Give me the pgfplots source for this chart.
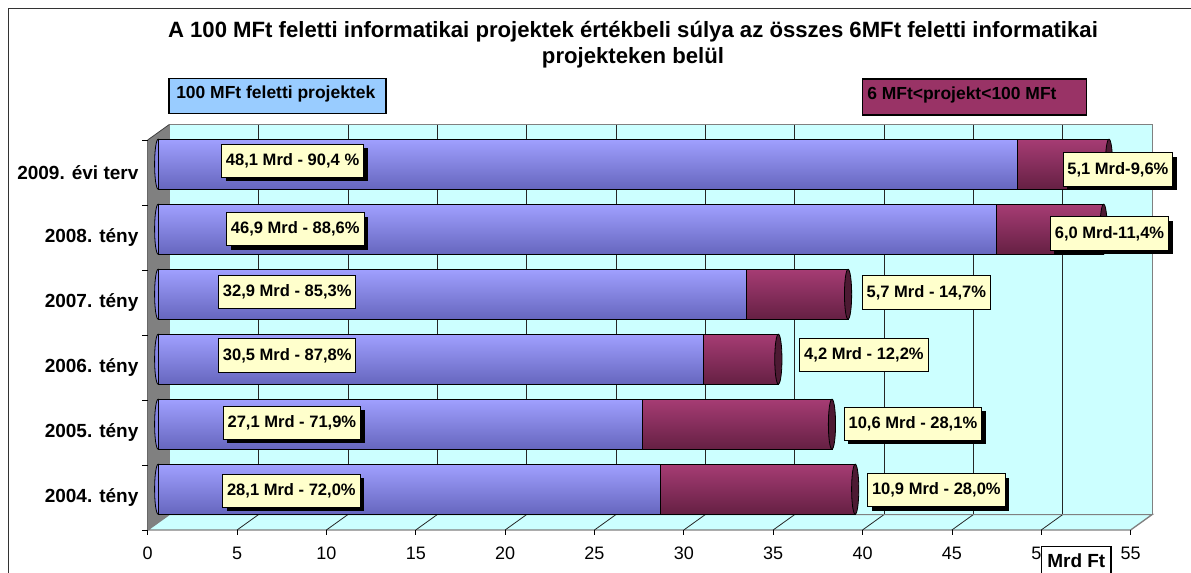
\documentclass[border=0pt]{standalone}
\usepackage{fontspec}
\setmainfont{Liberation Sans}
\usepackage{pgfplots}
\pgfplotsset{compat=1.18}
\usetikzlibrary{shadows}
\definecolor{wall}{HTML}{CCFFFF}
\definecolor{sidegray}{HTML}{808080}
\definecolor{blueTop}{HTML}{A0A0FF}
\definecolor{blueMid}{HTML}{8A8AF0}
\definecolor{blueBot}{HTML}{6666BE}
\definecolor{marTop}{HTML}{A63C74}
\definecolor{marMid}{HTML}{8E2D5E}
\definecolor{marBot}{HTML}{652043}
\definecolor{marCap}{HTML}{4D1A33}
\definecolor{blueCap}{HTML}{8484E6}
\definecolor{labfill}{HTML}{FFFFCC}
\definecolor{leg1}{HTML}{99CCFF}
\definecolor{leg2}{HTML}{993366}
\pgfdeclareplotmark{cap}{%
  \pgfpathellipse{\pgfpointorigin}{\pgfqpoint{2.7pt}{0pt}}{\pgfqpoint{0pt}{18.75pt}}%
  \pgfusepathqfillstroke}
\pgfplotsset{
  geo/.style={scale only axis, width=737.2pt, height=292.5pt,
    xmin=0, xmax=55, ymin=-0.5, ymax=5.5, anchor=south west, clip=false},
  barax/.style={geo, at={(118.65pt,38.475pt)}, hide axis},
}
\tikzset{
  lab/.style={draw=black, line width=0.7pt, fill=labfill, inner xsep=3.3pt, inner ysep=0pt,
    minimum height=25pt, font=\bfseries\fontsize{12.4}{14}\selectfont},
  sh/.style={lab, drop shadow={shadow xshift=3pt, shadow yshift=-3pt, opacity=1, fill=black}},
}
% one category: blue part, maroon part, category index
\newcommand{\barrow}[3]{%
\begin{axis}[barax, xbar stacked, bar width=37.5pt]
\addplot[draw=black, line width=0.6pt, top color=blueTop, middle color=blueMid, bottom color=blueBot]
  coordinates {(#1,#3)};
\addplot[draw=black, line width=0.6pt, top color=marTop, middle color=marMid, bottom color=marBot]
  coordinates {(#2,#3)};
\end{axis}}
\begin{document}
\begin{tikzpicture}[x=0.75pt,y=0.75pt]
\useasboundingbox (0,0) rectangle (1191,573);
\draw[black!80, line width=1.2pt] (8.3,564.5) rectangle (1300,-100);
% title
\node[anchor=base, font=\bfseries\fontsize{16.6}{19}\selectfont] at (633,535.3)
  {A 100 MFt feletti informatikai projektek értékbeli súlya az összes 6MFt feletti informatikai};
\node[anchor=base, font=\bfseries\fontsize{16.6}{19}\selectfont] at (633,509.3)
  {projekteken belül};
% legend boxes
\draw[fill=leg1, draw=black, line width=0.8pt] (169,494.7) rectangle (386,459.7);
\node[anchor=west, inner sep=0pt, font=\bfseries\fontsize{13.1}{15}\selectfont] at (176,479) {100 MFt feletti projektek};
\draw[fill=leg2, draw=black, line width=0.8pt] (862.3,494) rectangle (1086.7,458);
\node[anchor=west, inner sep=0pt, font=\bfseries\fontsize{13.1}{15}\selectfont] at (867,478) {6 MFt<projekt<100 MFt};
% floor
\fill[wall, draw=sidegray, line width=1pt] (147.7,43) -- (1130.6,43) -- (1152.2,58.5) -- (169.3,58.5) -- cycle;
\foreach \i in {5,10,...,50} \draw[black!85, line width=0.6pt] (147.7+\i*17.87,43) -- (169.3+\i*17.87,58.5);
% back wall
\begin{axis}[geo, at={(126.975pt,43.875pt)},
  axis background/.style={fill=wall},
  axis line style={draw=sidegray, line width=1pt},
  xtick={5,10,...,50}, xticklabels={}, ytick=\empty,
  xmajorgrids, grid style={black!85, line width=0.6pt},
  major tick length=0pt]
\end{axis}
% side wall
\fill[sidegray] (147.7,43) -- (169.3,58.5) -- (169.3,448.5) -- (147.7,433) -- cycle;
\draw[black!75, line width=0.6pt] (147.7,433) -- (169.3,448.5);
\draw[sidegray!80!black, line width=1pt] (147.7,43) -- (147.7,433);
% left caps (behind bars)
\begin{axis}[barax]
\addplot[only marks, mark=cap, mark options={fill=blueCap, draw=black, line width=0.6pt}]
  coordinates {(0,0) (0,1) (0,2) (0,3) (0,4) (0,5)};
\end{axis}
% bars, one axis per category so that each bar gets its own shading
\barrow{28.1}{10.9}{0}
\barrow{27.1}{10.6}{1}
\barrow{30.5}{4.2}{2}
\barrow{32.9}{5.7}{3}
\barrow{46.9}{6.0}{4}
\barrow{48.1}{5.1}{5}
% right caps
\begin{axis}[barax]
\addplot[only marks, mark=cap, mark options={fill=marCap, draw=black, line width=0.6pt}]
  coordinates {(39.0,0) (37.7,1) (34.7,2) (38.6,3) (52.9,4) (53.2,5)};
\end{axis}
% front axis: ticks and labels
\begin{axis}[geo, at={(110.775pt,32.25pt)},
  axis x line*=bottom, axis y line*=left,
  axis line style={draw=none},
  xtick={0,5,...,55}, tick align=outside, major tick length=3.75pt,
  xtick style={black, line width=0.6pt},
  xticklabel style={anchor=center, yshift=-14pt, font=\fontsize{13.5}{15}\selectfont},
  /pgf/number format/assume math mode=true,
  ytick={0,1,2,3,4,5},
  yticklabels={2004. tény, 2005. tény, 2006. tény, 2007. tény, 2008. tény, 2009. évi terv},
  ytick style={draw=none},
  yticklabel style={anchor=east, inner sep=0pt, xshift=-3pt, font=\bfseries\fontsize{14.25}{16}\selectfont},
]
\pgfplotsinvokeforeach{-0.5,0.5,1.5,2.5,3.5,4.5,5.5}{
  \draw[black, line width=0.6pt] (axis cs:0,#1) -- ++(-4.5pt,0pt);
}
\end{axis}
% data labels
\begin{axis}[barax]
\addplot[draw=none] coordinates {(0,0)};
\node[sh] at (axis cs:7.52,5) [yshift=2.6pt] {48,1 Mrd - 90,4 \%};
\node[sh] at (axis cs:7.67,4) {46,9 Mrd - 88,6\%};
\node[lab] at (axis cs:7.22,3) [yshift=1.5pt] {32,9 Mrd - 85,3\%};
\node[lab] at (axis cs:7.22,2) [yshift=2.8pt] {30,5 Mrd - 87,8\%};
\node[sh] at (axis cs:7.48,1) [yshift=1.1pt] {27,1 Mrd - 71,9\%};
\node[sh] at (axis cs:7.45,0) [yshift=-1.2pt] {28,1 Mrd - 72,0\%};
\node[sh] at (axis cs:53.70,5) [yshift=-3.9pt] {5,1 Mrd-9,6\%};
\node[sh] at (axis cs:53.23,4) [yshift=-3.2pt] {6,0 Mrd-11,4\%};
\node[lab] at (axis cs:42.98,3) [yshift=1.35pt] {5,7 Mrd - 14,7\%};
\node[lab] at (axis cs:39.49,2) [yshift=3pt] {4,2 Mrd - 12,2\%};
\node[sh] at (axis cs:42.23,1) [yshift=0.4pt] {10,6 Mrd - 28,1\%};
\node[sh] at (axis cs:43.54,0) [yshift=-0.75pt] {10,9 Mrd - 28,0\%};
\end{axis}
% unit box
\draw[fill=white, draw=black, line width=0.8pt] (1041.7,26.3) rectangle (1111,-30);
\node[anchor=center, font=\bfseries\fontsize{14.25}{16}\selectfont] at (1076.3,12) {Mrd Ft};
\end{tikzpicture}
\end{document}
